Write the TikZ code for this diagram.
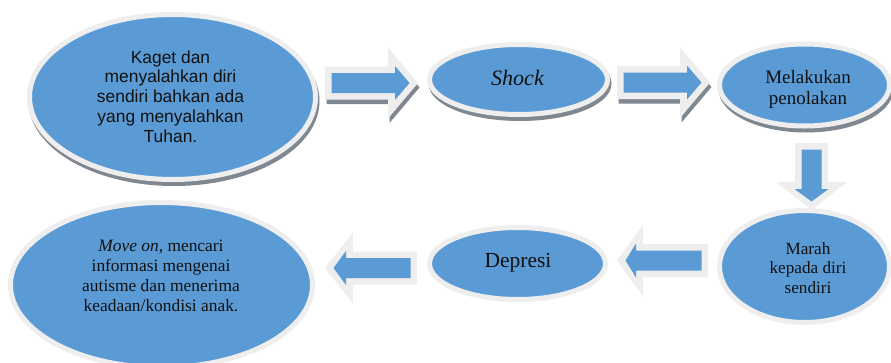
\documentclass[tikz,border=0pt]{standalone}
\usepackage{fontspec}
\setmainfont{Liberation Serif}
\newfontfamily\arialf{Liberation Sans}
\usetikzlibrary{shapes.geometric,calc}
\definecolor{blueF}{HTML}{5B9BD5}
\definecolor{borderC}{HTML}{EEEEEE}
\definecolor{shadowC}{HTML}{7F8790}
\definecolor{txtC}{HTML}{111111}
\tikzset{
  ell/.style={ellipse, fill=blueF, draw=borderC, line width=5pt, inner sep=0pt},
  shad/.style={preaction={fill=shadowC, draw=shadowC, line width=5pt,
      transform canvas={shift={(1.5pt,-4pt)}}}},
  txt/.style={inner sep=0pt, align=center, text=txtC},
  arrowborder/.style={fill=borderC},
  arrowblue/.style={fill=blueF},
  arrowshadow/.style={fill=shadowC},
}
% #1 tail coordinate, #2 angle, #3 length, #4 head base
\newcommand\blockarrow[4]{%
  \begin{scope}[shift={(#1)},rotate=#2]
    \fill[arrowborder] (0,-16.5) -- (#4,-16.5) -- (#4,-35.5) -- (#3,0) -- (#4,35.5) -- (#4,16.5) -- (0,16.5) -- cycle;
    \fill[arrowblue] (6.5,-10) -- ({#4+7},-10) -- ({#4+7},-17) -- ({#3-8.5},0) -- ({#4+7},17) -- ({#4+7},10) -- (6.5,10) -- cycle;
  \end{scope}}
\newcommand\blockarrowshadow[4]{%
  \begin{scope}[shift={(#1)},rotate=#2]
    \fill[arrowshadow] (1.5,-12) -- ({#4+1.5},-12) -- ({#4+1.5},-31) -- ({#3+1.5},4.5) -- ({#4+1.5},40) -- ({#4+1.5},21) -- (1.5,21) -- cycle;
  \end{scope}
  \blockarrow{#1}{#2}{#3}{#4}}
\begin{document}
\begin{tikzpicture}[x=1pt,y=-1pt]
\useasboundingbox (0,0) rectangle (891,362);
\clip (0,0) rectangle (891,362);
\fill[white] (0,0) rectangle (891,362);

% arrow tails
\coordinate (a1) at (325,83);
\coordinate (a2) at (617,82.5);
\coordinate (a3) at (811.5,143);
\coordinate (a4) at (708,260.5);
\coordinate (a5) at (417,268);

\blockarrowshadow{a1}{0}{93}{63}
\blockarrowshadow{a2}{0}{93}{63}
\blockarrow{a3}{-90}{67}{39}
\blockarrow{a4}{180}{91}{65}
\blockarrow{a5}{180}{92}{64}

% ellipses
\node[ell, shad, minimum width=286pt, minimum height=165pt] (kaget) at (172.5,97) {};
\node[ell, shad, minimum width=178pt, minimum height=70pt] (shock) at (518.5,79.5) {};
\node[ell, shad, minimum width=170pt, minimum height=82pt] (melak) at (804.5,85) {};
\node[ell, minimum width=170pt, minimum height=112pt] (marah) at (804.5,266.5) {};
\node[ell, minimum width=176pt, minimum height=72pt] (depresi) at (517.5,263.5) {};
\node[ell, minimum width=302pt, minimum height=165pt] (moveon) at (161.5,285) {};

% texts
\node[txt, font=\arialf\fontsize{17.4}{19.75}\selectfont] (kagett) at (170.5,96.5)
  {Kaget dan\\menyalahkan diri\\sendiri bahkan ada\\yang menyalahkan\\Tuhan.};
\node[txt, font=\fontsize{22}{24}\selectfont\itshape] (shockt) at (517.5,77.5) {Shock};
\node[txt, font=\fontsize{19}{21}\selectfont] (melakt) at (808,89) {Melakukan\\penolakan};
\node[txt, font=\fontsize{17.2}{19.5}\selectfont] (maraht) at (808,268) {Marah\\kepada diri\\sendiri};
\node[txt, font=\fontsize{21.5}{24}\selectfont] (depresit) at (518,263) {Depresi};
\node[txt, font=\fontsize{17.4}{20}\selectfont] (moveont) at (161,276)
  {\textit{Move on}, mencari\\informasi mengenai\\autisme dan menerima\\keadaan/kondisi anak.};
\end{tikzpicture}
\end{document}
